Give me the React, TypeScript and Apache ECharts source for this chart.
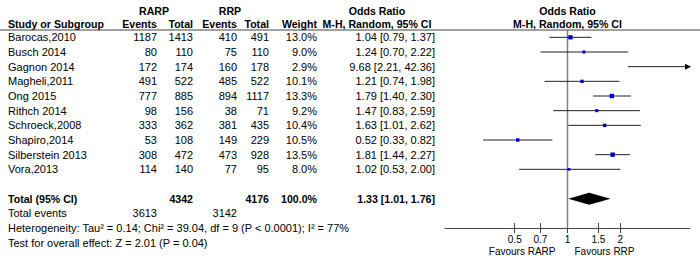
import React, { useEffect, useRef } from "react";
import * as echarts from "echarts";

const studies = ["Barocas,2010", "Busch 2014", "Gagnon 2014", "Magheli,2011", "Ong 2015", "Rithch 2014", "Schroeck,2008", "Shapiro,2014", "Silberstein 2013", "Vora,2013"];
const rarpEvents = [1187, 80, 172, 491, 777, 98, 333, 53, 308, 114];
const rarpTotal = [1413, 110, 174, 522, 885, 156, 362, 108, 472, 140];
const rrpEvents = [410, 75, 160, 485, 894, 38, 381, 149, 473, 77];
const rrpTotal = [491, 110, 178, 522, 1117, 71, 435, 229, 928, 95];
const weights = [13.0, 9.0, 2.9, 10.1, 13.3, 9.2, 10.4, 10.5, 13.5, 8.0];
const oddsRatio = [1.04, 1.24, 9.68, 1.21, 1.79, 1.47, 1.63, 0.52, 1.81, 1.02];
const ciLow = [0.79, 0.70, 2.21, 0.74, 1.40, 0.83, 1.01, 0.33, 1.44, 0.53];
const ciHigh = [1.37, 2.22, 42.36, 1.98, 2.30, 2.59, 2.62, 0.82, 2.27, 2.00];
const totalOR = [1.33, 1.01, 1.76];
const totalRarp = 4342;
const totalRrp = 4176;
const totalEventsRarp = 3613;
const totalEventsRrp = 3142;
const tickValues = [0.5, 0.7, 1, 1.5, 2];
const axisMin = 0.2;
const axisMax = 5;
const heterogeneityText = "Heterogeneity: Tau\u00b2 = 0.14; Chi\u00b2 = 39.04, df = 9 (P < 0.0001); I\u00b2 = 77%";
const overallText = "Test for overall effect: Z = 2.01 (P = 0.04)";

const FONT = '"Liberation Sans", Arial, sans-serif';
const GRID_LEFT = 445;
const GRID_W = 245;
const GRID_TOP = 30;
const GRID_H = 198;
const Y_MIN = -0.5;
const Y_MAX = 13;
const ROW_H = GRID_H / (Y_MAX - Y_MIN);
const rowY = (i: number) => GRID_TOP + (i - Y_MIN) * ROW_H;
const xOne = GRID_LEFT + (GRID_W * (0 - Math.log10(axisMin))) / (Math.log10(axisMax) - Math.log10(axisMin));

const REG = `11px ${FONT}`;
const BOLD = `bold 10.6px ${FONT}`;
const SMALL = `10px ${FONT}`;

function txt(text: string, x: number, y: number, font: string, align = "left") {
  return {
    type: "text",
    x,
    y,
    silent: true,
    style: { text, fill: "#000", font, textAlign: align, textVerticalAlign: "middle", align, verticalAlign: "middle" },
  };
}

const fmt2 = (v: number) => v.toFixed(2);

export default function App() {
  const ref = useRef<HTMLDivElement>(null);
  useEffect(() => {
    if (!ref.current) return;
    const chart = echarts.init(ref.current, undefined, { renderer: "svg" });

    const graphics: any[] = [];
    graphics.push({ type: "line", shape: { x1: 0, y1: GRID_TOP, x2: 700, y2: GRID_TOP }, style: { stroke: "#444", lineWidth: 1 }, silent: true });
    graphics.push(txt("RARP", 154, 11, BOLD, "center"));
    graphics.push(txt("RRP", 230, 11, BOLD, "center"));
    graphics.push(txt("Odds Ratio", 377, 11, BOLD, "center"));
    graphics.push(txt("Odds Ratio", xOne, 11, BOLD, "center"));
    graphics.push(txt("Study or Subgroup", 8, 24, BOLD, "left"));
    graphics.push(txt("Events", 157, 24, BOLD, "right"));
    graphics.push(txt("Total", 193, 24, BOLD, "right"));
    graphics.push(txt("Events", 237, 24, BOLD, "right"));
    graphics.push(txt("Total", 269, 24, BOLD, "right"));
    graphics.push(txt("Weight", 317, 24, BOLD, "right"));
    graphics.push(txt("M-H, Random, 95% CI", 377, 24, BOLD, "center"));
    graphics.push(txt("M-H, Random, 95% CI", xOne, 24, BOLD, "center"));

    studies.forEach((s, i) => {
      const y = rowY(i);
      graphics.push(txt(s, 8, y, REG, "left"));
      graphics.push(txt(String(rarpEvents[i]), 157, y, REG, "right"));
      graphics.push(txt(String(rarpTotal[i]), 193, y, REG, "right"));
      graphics.push(txt(String(rrpEvents[i]), 237, y, REG, "right"));
      graphics.push(txt(String(rrpTotal[i]), 269, y, REG, "right"));
      graphics.push(txt(weights[i].toFixed(1) + "%", 317, y, REG, "right"));
      graphics.push(txt(`${fmt2(oddsRatio[i])} [${fmt2(ciLow[i])}, ${fmt2(ciHigh[i])}]`, 435, y, REG, "right"));
    });

    const ty = rowY(11);
    graphics.push(txt("Total (95% CI)", 8, ty, BOLD, "left"));
    graphics.push(txt(String(totalRarp), 193, ty, BOLD, "right"));
    graphics.push(txt(String(totalRrp), 269, ty, BOLD, "right"));
    graphics.push(txt("100.0%", 317, ty, BOLD, "right"));
    graphics.push(txt(`${fmt2(totalOR[0])} [${fmt2(totalOR[1])}, ${fmt2(totalOR[2])}]`, 435, ty, BOLD, "right"));

    const ey = rowY(12);
    graphics.push(txt("Total events", 8, ey, REG, "left"));
    graphics.push(txt(String(totalEventsRarp), 157, ey, REG, "right"));
    graphics.push(txt(String(totalEventsRrp), 237, ey, REG, "right"));
    graphics.push(txt(heterogeneityText, 8, rowY(13), REG, "left"));
    graphics.push(txt(overallText, 8, rowY(14), REG, "left"));

    graphics.push(txt("Favours RARP", xOne - 12, 251, SMALL, "right"));
    graphics.push(txt("Favours RRP", xOne + 7, 251, SMALL, "left"));

    const logTicks = tickValues.map((v) => Math.log10(v));
    const labelFmt = (v: number) => String(Number(Math.pow(10, v).toPrecision(2)));

    const studyData = studies.map((_, i) => [Math.log10(oddsRatio[i]), Math.log10(ciLow[i]), Math.log10(ciHigh[i]), i, weights[i]]);

    chart.setOption({
      animation: false,
      grid: { left: GRID_LEFT, top: GRID_TOP, width: GRID_W, height: GRID_H, containLabel: false },
      xAxis: [
        {
          type: "value",
          min: Math.log10(axisMin),
          max: Math.log10(axisMax),
          position: "bottom",
          axisLine: { show: true, onZero: false, lineStyle: { color: "#444", width: 1 } },
          axisTick: { show: true, length: 5, customValues: logTicks, lineStyle: { color: "#444" } },
          axisLabel: { show: true, customValues: logTicks, formatter: labelFmt, fontSize: 10, fontFamily: FONT, color: "#000", margin: 6 },
          splitLine: { show: false },
        },
        {
          type: "value",
          min: Math.log10(axisMin),
          max: Math.log10(axisMax),
          position: "bottom",
          axisLine: { show: false, onZero: false },
          axisTick: { show: true, inside: true, length: 5, customValues: logTicks, lineStyle: { color: "#444" } },
          axisLabel: { show: false },
          splitLine: { show: false },
        },
      ],
      yAxis: { type: "value", min: Y_MIN, max: Y_MAX, inverse: true, show: false },
      graphic: graphics,
      series: [
        {
          type: "line",
          xAxisIndex: 0,
          data: [[0, Y_MIN], [0, Y_MAX]],
          showSymbol: false,
          symbol: "none",
          lineStyle: { color: "#808080", width: 1.5 },
          z: 1,
          silent: true,
        },
        {
          type: "custom",
          xAxisIndex: 0,
          z: 3,
          silent: true,
          data: studyData,
          renderItem: (params: any, api: any) => {
            const row = api.value(3);
            const p = api.coord([api.value(0), row]);
            const l = api.coord([api.value(1), row]);
            const h = api.coord([api.value(2), row]);
            const cs = params.coordSys;
            const left = cs.x;
            const right = cs.x + cs.width;
            const x1 = Math.max(l[0], left);
            const x2 = Math.min(h[0], right);
            const children: any[] = [
              { type: "line", shape: { x1, y1: p[1], x2, y2: p[1] }, style: { stroke: "#222", lineWidth: 1 } },
            ];
            if (h[0] > right) {
              children.push({ type: "polygon", shape: { points: [[right + 1, p[1]], [right - 5, p[1] - 3], [right - 5, p[1] + 3]] }, style: { fill: "#000" } });
            }
            if (p[0] >= left && p[0] <= right) {
              const s = Math.max(2, api.value(4) * 0.33);
              children.push({ type: "rect", shape: { x: p[0] - s / 2, y: p[1] - s / 2, width: s, height: s }, style: { fill: "#0000cc" } });
            }
            return { type: "group", children };
          },
        },
        {
          type: "custom",
          xAxisIndex: 0,
          z: 3,
          silent: true,
          data: [[Math.log10(totalOR[0]), Math.log10(totalOR[1]), Math.log10(totalOR[2]), 11]],
          renderItem: (params: any, api: any) => {
            const row = api.value(3);
            const p = api.coord([api.value(0), row]);
            const l = api.coord([api.value(1), row]);
            const h = api.coord([api.value(2), row]);
            return {
              type: "polygon",
              shape: { points: [[l[0], p[1]], [p[0], p[1] - 6], [h[0], p[1]], [p[0], p[1] + 6]] },
              style: { fill: "#000" },
            };
          },
        },
      ],
    });
    return () => chart.dispose();
  }, []);
  return <div ref={ref} style={{ position: "absolute", left: 0, top: 0, width: 700, height: 258, background: "#fff" }} />;
}
